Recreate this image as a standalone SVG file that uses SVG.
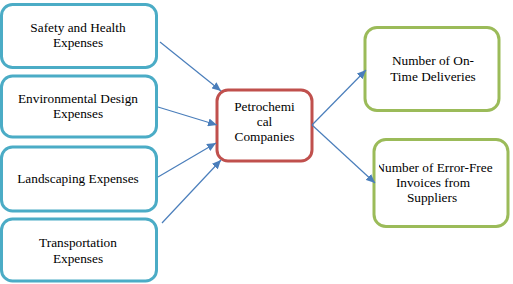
<svg xmlns="http://www.w3.org/2000/svg" width="513" height="284" viewBox="0 0 513 284">
<style>
.box{fill:#fff;stroke-width:3}
.in{stroke:#4BACC6}
.mid{stroke:#C0504D}
.out{stroke:#9BBB59}
.t{font-family:'Liberation Serif','Times New Roman',Times,serif;font-size:13.3px;fill:#000;text-anchor:middle}
.conn line{stroke:#4A7EBB;stroke-width:1.2;fill:none}
</style>
<defs>
<marker id="ah" markerUnits="userSpaceOnUse" markerWidth="10" markerHeight="8" refX="9" refY="4" orient="auto">
<path d="M0,0 L9,4 L0,8 Z" fill="#4A7EBB"/>
</marker>
<clipPath id="clipR2"><rect x="379" y="139" width="130" height="88"/></clipPath>
</defs>
<g id="n-safety">
<rect class="box in" x="1.5" y="4.5" width="155" height="63" rx="11"/>
<text class="t" x="78" y="32">Safety and Health</text>
<text class="t" x="78" y="47">Expenses</text>
</g>
<g id="n-env">
<rect class="box in" x="1.5" y="76" width="155" height="61" rx="11"/>
<text class="t" x="78" y="103">Environmental Design</text>
<text class="t" x="78" y="118">Expenses</text>
</g>
<g id="n-land">
<rect class="box in" x="1.5" y="147" width="155" height="64" rx="11"/>
<text class="t" x="78" y="183">Landscaping Expenses</text>
</g>
<g id="n-trans">
<rect class="box in" x="1.5" y="219" width="155" height="62" rx="11"/>
<text class="t" x="78" y="247">Transportation</text>
<text class="t" x="78" y="263">Expenses</text>
</g>
<g id="n-petro">
<rect class="box mid" x="217" y="90" width="95" height="71" rx="11"/>
<text class="t" x="264.5" y="111">Petrochemi</text>
<text class="t" x="264.5" y="126">cal</text>
<text class="t" x="264.5" y="141">Companies</text>
</g>
<g id="n-ontime">
<rect class="box out" x="365" y="27.5" width="134" height="83" rx="12"/>
<text class="t" x="433" y="65">Number of On-</text>
<text class="t" x="433" y="81">Time Deliveries</text>
</g>
<g id="n-errorfree">
<rect class="box out" x="374" y="139.5" width="134" height="87" rx="12"/>
<text class="t" x="434" y="172" clip-path="url(#clipR2)">Number of Error-Free</text>
<text class="t" x="433" y="187">Invoices from</text>
<text class="t" x="432" y="202">Suppliers</text>
</g>
<g id="connectors" class="conn">
<line x1="160" y1="42" x2="221" y2="91" marker-end="url(#ah)"/>
<line x1="158" y1="107" x2="217" y2="125" marker-end="url(#ah)"/>
<line x1="158" y1="177" x2="216" y2="143" marker-end="url(#ah)"/>
<line x1="162" y1="223" x2="221" y2="160" marker-end="url(#ah)"/>
<line x1="312" y1="125" x2="366" y2="70" marker-end="url(#ah)"/>
<line x1="312" y1="125" x2="375" y2="183" marker-end="url(#ah)"/>
</g>
</svg>
